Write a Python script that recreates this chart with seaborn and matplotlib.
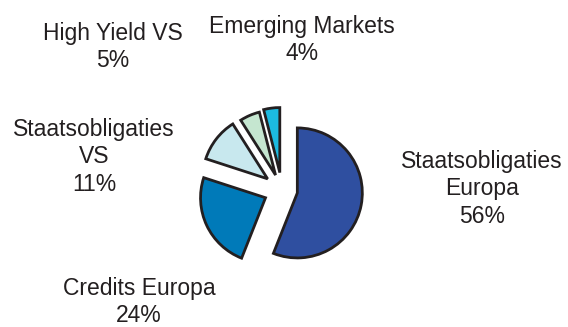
import matplotlib
matplotlib.use("Agg")
import matplotlib.pyplot as plt
import seaborn as sns

# Portfolio allocation (fixed income)
categories = ["Staatsobligaties\nEuropa", "Credits Europa", "Staatsobligaties\nVS",
              "High Yield VS", "Emerging Markets"]
shares = [56, 24, 11, 5, 4]
colors = ["#2F4FA0", "#007AB9", "#C8E8EE", "#C5E6D0", "#1CBAE0"]
explode = [0.24, 0.28, 0.28, 0.25, 0.27]

# label block centres in figure pixels (x from left, y from top)
label_pos = [(482, 189), (139, 302), (94, 157), (113, 47), (302, 40)]

sns.set_theme(style="white")
plt.rcParams["font.family"] = ["Liberation Sans", "DejaVu Sans"]

W, H = 568, 327
fig = plt.figure(figsize=(W / 100, H / 100), dpi=100)
ax = fig.add_axes([0, 0, 1, 1])

R = 65.0          # pie radius in pixels
cx, cy = 282, 190  # pie centre in pixels (from top)

ax.pie(shares, colors=colors, explode=explode, startangle=90, counterclock=False,
       radius=1, center=(0, 0),
       wedgeprops=dict(edgecolor="#231F20", linewidth=2.0, joinstyle="miter"))
ax.set_xlim(-cx / R, (W - cx) / R)
ax.set_ylim(-(H - cy) / R, cy / R)
ax.set_aspect("auto")
ax.axis("off")

for name, val, (px, py) in zip(categories, shares, label_pos):
    fig.text(px / W, 1 - py / H, f"{name}\n{val}%", ha="center", va="center",
             fontsize=16.5, color="#231F20", linespacing=1.25)

fig.savefig("out.png", dpi=100, facecolor="white")
